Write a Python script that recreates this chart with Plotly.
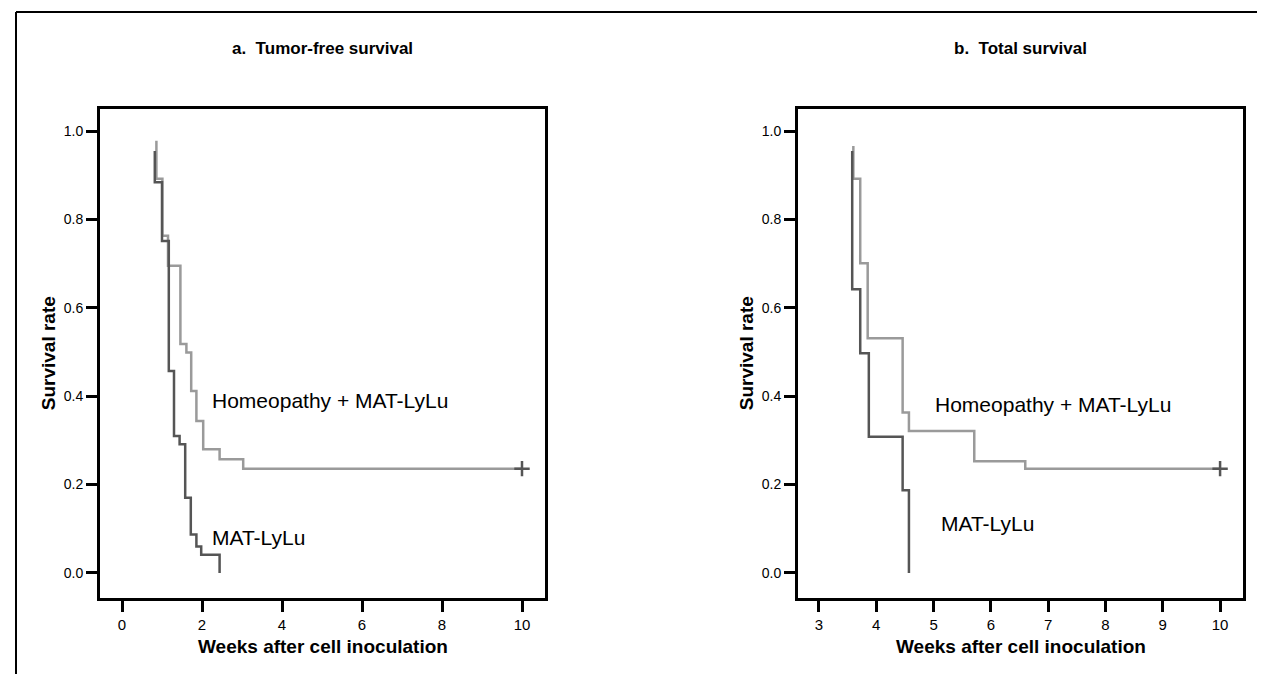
import plotly.graph_objects as go

# ---- data ----
# Step curves: first entry = starting point, later entries = event time / survival after event
a_homeo_t = [0.86, 0.86, 1.01, 1.15, 1.46, 1.61, 1.73, 1.86, 2.03, 2.44, 3.03]
a_homeo_s = [0.978, 0.892, 0.763, 0.695, 0.518, 0.499, 0.412, 0.344, 0.280, 0.257, 0.236]
a_mat_t = [0.82, 0.82, 1.00, 1.17, 1.30, 1.44, 1.58, 1.72, 1.86, 1.98, 2.44]
a_mat_s = [0.955, 0.884, 0.751, 0.457, 0.310, 0.291, 0.170, 0.087, 0.060, 0.041, 0.0]

b_homeo_t = [3.60, 3.60, 3.72, 3.85, 4.46, 4.57, 5.71, 6.60]
b_homeo_s = [0.966, 0.892, 0.701, 0.531, 0.363, 0.321, 0.253, 0.236]
b_mat_t = [3.58, 3.58, 3.72, 3.87, 4.46, 4.57]
b_mat_s = [0.955, 0.642, 0.497, 0.308, 0.187, 0.0]

# censored observation at end of follow-up
follow_up_end = 10.0
a_censor_s = 0.236
b_censor_s = 0.236

y_ticks = [0.0, 0.2, 0.4, 0.6, 0.8, 1.0]
y_ticktext = ["0.0", "0.2", "0.4", "0.6", "0.8", "1.0"]
a_x_ticks = [0, 2, 4, 6, 8, 10]
b_x_ticks = [3, 4, 5, 6, 7, 8, 9, 10]

titles = ["a.  Tumor-free survival", "b.  Total survival"]
x_title = "Weeks after cell inoculation"
y_title = "Survival rate"
lbl_homeo = "Homeopathy + MAT-LyLu"
lbl_mat = "MAT-LyLu"

LIGHT = "#9a9a9a"
DARK = "#555555"
W, H = 1265, 674


def step_xy(t, s, end=None):
    xs, ys = [t[0]], [s[0]]
    for i in range(1, len(t)):
        xs.append(t[i]); ys.append(ys[-1])
        xs.append(t[i]); ys.append(s[i])
    if end is not None:
        xs.append(end); ys.append(ys[-1])
    return xs, ys


fig = go.Figure()

panels = [
    ("x", "y", a_homeo_t, a_homeo_s, a_mat_t, a_mat_s, a_censor_s),
    ("x2", "y2", b_homeo_t, b_homeo_s, b_mat_t, b_mat_s, b_censor_s),
]
for xa, ya, ht, hs, mt, ms, cs in panels:
    x, y = step_xy(ht, hs, follow_up_end)
    fig.add_trace(go.Scatter(x=x, y=y, mode="lines", line=dict(color=LIGHT, width=2.5),
                             xaxis=xa, yaxis=ya, showlegend=False, hoverinfo="skip"))
    x, y = step_xy(mt, ms)
    fig.add_trace(go.Scatter(x=x, y=y, mode="lines", line=dict(color=DARK, width=2.5),
                             xaxis=xa, yaxis=ya, showlegend=False, hoverinfo="skip"))
    fig.add_trace(go.Scatter(x=[follow_up_end], y=[cs], mode="markers",
                             marker=dict(symbol="cross-thin", size=11,
                                         line=dict(color=DARK, width=2.5)),
                             xaxis=xa, yaxis=ya, showlegend=False, hoverinfo="skip"))

# geometry in pixels
L1, R1 = 92, 537
L2, R2 = 790, 1235
TOP, BOT = 100.5, 590


def px(v):
    return v / W


def py(v):
    return 1 - v / H


tickfont = dict(family="Liberation Sans Narrow, Liberation Sans, Arial", size=15, color="black")
ytickfont = dict(family="Liberation Sans Narrow, Liberation Sans, Arial", size=14, color="black")

common_x = dict(showline=True, linecolor="black", linewidth=3, mirror=True, ticks="outside",
                ticklen=11, tickwidth=3, tickcolor="black", showgrid=False, zeroline=False,
                tickfont=tickfont)
common_y = dict(showline=True, linecolor="black", linewidth=3, mirror=True, ticks="outside",
                ticklen=11, tickwidth=3, tickcolor="black", showgrid=False, zeroline=False,
                tickfont=ytickfont, tickvals=y_ticks, ticktext=y_ticktext, range=[-0.0567, 1.051])

fig.update_layout(
    width=W, height=H,
    margin=dict(l=0, r=0, t=0, b=0),
    paper_bgcolor="white", plot_bgcolor="white",
    xaxis=dict(domain=[px(L1), px(R1)], range=[-0.55, 10.575], tickvals=a_x_ticks,
               anchor="y", **common_x),
    yaxis=dict(domain=[py(BOT), py(TOP)], anchor="x", **common_y),
    xaxis2=dict(domain=[px(L2), px(R2)], range=[2.634, 10.4], tickvals=b_x_ticks,
                anchor="y2", **common_x),
    yaxis2=dict(domain=[py(BOT), py(TOP)], anchor="x2", **common_y),
)

# outer frame (top and left edges)
fig.add_shape(type="line", xref="paper", yref="paper", x0=px(8), x1=1.0, y0=py(4), y1=py(4),
              line=dict(color="black", width=2))
fig.add_shape(type="line", xref="paper", yref="paper", x0=px(8), x1=px(8), y0=py(4), y1=0,
              line=dict(color="black", width=2))

titlefont = dict(family="Liberation Sans, Arial", size=17, color="black")
bold = dict(family="Liberation Sans, Arial", size=19, color="black")
anns = []
for title, cx in zip(titles, [(L1 + R1) / 2, (L2 + R2) / 2]):
    anns.append(dict(text="<b>" + title + "</b>", x=px(cx), y=py(40), xref="paper", yref="paper",
                     showarrow=False, xanchor="center", yanchor="middle", font=titlefont))
    anns.append(dict(text="<b>" + x_title + "</b>", x=px(cx), y=py(638), xref="paper", yref="paper",
                     showarrow=False, xanchor="center", yanchor="middle", font=bold))
for cx in [40, 738]:
    anns.append(dict(text="<b>" + y_title + "</b>", x=px(cx), y=py((TOP + BOT) / 2), xref="paper",
                     yref="paper", showarrow=False, textangle=-90, xanchor="center",
                     yanchor="middle", font=bold))

lblfont = dict(family="Liberation Sans, Arial", size=21, color="black")
anns.append(dict(text=lbl_homeo, x=2.2, y=0.39, xref="x", yref="y", showarrow=False,
                 xanchor="left", yanchor="middle", font=lblfont))
anns.append(dict(text=lbl_mat, x=2.2, y=0.08, xref="x", yref="y", showarrow=False,
                 xanchor="left", yanchor="middle", font=lblfont))
anns.append(dict(text=lbl_homeo, x=4.99, y=0.382, xref="x2", yref="y2", showarrow=False,
                 xanchor="left", yanchor="middle", font=lblfont))
anns.append(dict(text=lbl_mat, x=5.09, y=0.113, xref="x2", yref="y2", showarrow=False,
                 xanchor="left", yanchor="middle", font=lblfont))
fig.update_layout(annotations=anns)

fig.write_html("out.html")
